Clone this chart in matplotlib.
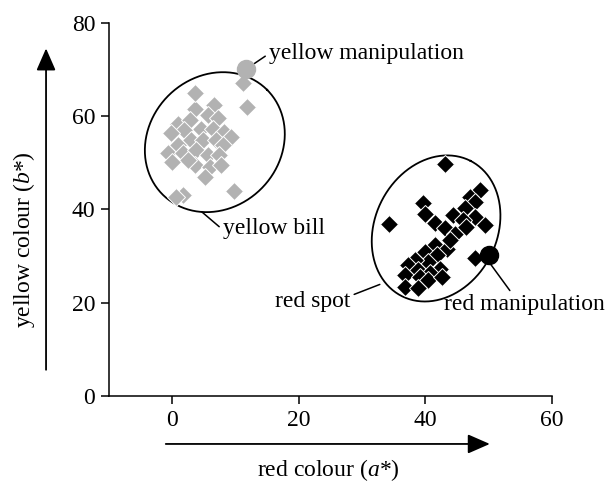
import numpy as np
import matplotlib
matplotlib.use("Agg")
import matplotlib.pyplot as plt

plt.rcParams['font.family'] = ['Liberation Serif', 'DejaVu Serif']
plt.rcParams['font.size'] = 17
plt.rcParams['mathtext.fontset'] = 'custom'
plt.rcParams['mathtext.rm'] = 'Liberation Serif'
plt.rcParams['mathtext.it'] = 'Liberation Serif:italic'

# yellow bill (grey diamonds)
yellow_a = [3.5, 6.6, 5.6, 0.8, 2.7, 7.2, 4.5, 1.9, -0.2, 6.4, 8.2, 9.3, 2.9, 4.8,
            6.9, 0.8, -0.7, 1.6, 3.7, 5.6, 8.0, 7.4, 3.5, 5.9, 7.7, 5.1, 2.4, 0.0,
            3.5, 11.1, 11.8, 1.7, 0.5, 9.7]
yellow_b = [61.6, 62.3, 60.2, 58.4, 59.1, 59.5, 57.3, 57.0, 56.3, 57.3, 56.6, 55.5, 54.8, 54.8,
            54.8, 53.7, 52.0, 52.0, 52.7, 51.6, 53.7, 51.6, 49.5, 49.1, 49.5, 47.0, 50.5, 50.2,
            65.0, 67.0, 62.0, 43.0, 42.7, 44.0]

# red spot (black diamonds)
red_a = [48.6, 47.0, 39.7, 39.9, 47.8, 46.3, 47.8, 49.4, 44.4, 46.0, 41.5, 43.1, 44.7, 46.5,
         41.5, 43.4, 39.9, 41.8, 40.4, 38.3, 37.3, 38.9, 42.3, 40.7, 36.8, 39.1, 40.4, 36.8,
         38.9, 47.8, 42.6, 43.9, 43.1, 34.3]
red_b = [44.1, 42.7, 41.3, 39.1, 41.6, 40.2, 38.4, 36.6, 38.8, 37.7, 37.0, 35.9, 34.8, 36.3,
         32.3, 31.6, 30.9, 30.2, 28.8, 29.1, 28.1, 27.0, 27.3, 26.3, 25.9, 25.5, 24.8, 23.4,
         23.1, 29.5, 25.5, 33.4, 49.7, 36.8]

# manipulation points
yellow_manip = (11.6, 70.0)
red_manip = (50.0, 30.2)

x_ticks = [0, 20, 40, 60]
y_ticks = [0, 20, 40, 60, 80]

grey = '#b2b2b2'

fig = plt.figure(figsize=(6.07, 4.84), dpi=100)
ax = fig.add_axes([0.180, 0.182, 0.729, 0.771])
ax.set_xlim(-10, 60)
ax.set_ylim(0, 80)

# pixel aspect: how many y units per x unit at equal screen length
k = (0.729 * 607 / 70) / (0.771 * 484 / 80)


def ellipse(cx, cy, a, b, ang):
    t = np.linspace(0, 2 * np.pi, 300)
    th = np.radians(ang)
    u, v = a * np.cos(t), b * np.sin(t)
    X = u * np.cos(th) - v * np.sin(th)
    Y = u * np.sin(th) + v * np.cos(th)
    return cx + X, cy + Y * k


ex, ey = ellipse(6.7, 54.4, 11.7, 10.4, 45)
ax.plot(ex, ey, color='black', lw=1.3, zorder=1)
ex, ey = ellipse(41.7, 35.9, 12.0, 9.65, 63)
ax.plot(ex, ey, color='black', lw=1.3, zorder=1)

ax.plot(yellow_a, yellow_b, 'D', color=grey, ms=9, mec='white', mew=0.7, zorder=2)
ax.plot(red_a, red_b, 'D', color='black', ms=9, mec='white', mew=0.7, zorder=2)
ax.plot(*yellow_manip, 'o', color=grey, ms=13, zorder=3)
ax.plot(*red_manip, 'o', color='black', ms=13, zorder=3)

line = dict(arrowstyle='-', color='black', lw=1.1, shrinkA=1, shrinkB=0)
ax.annotate('yellow manipulation', xy=(13.0, 71.3), xytext=(15.3, 73.4),
            ha='left', va='center', annotation_clip=False,
            arrowprops=dict(line, relpos=(0, 0.5)))
ax.annotate('yellow bill', xy=(4.6, 39.5), xytext=(8.0, 35.8),
            ha='left', va='center', annotation_clip=False,
            arrowprops=dict(line, relpos=(0, 0.45)))
ax.annotate('red spot', xy=(32.8, 23.9), xytext=(28.1, 20.3),
            ha='right', va='center', annotation_clip=False,
            arrowprops=dict(line, relpos=(1, 0.75)))
ax.annotate('red manipulation', xy=(50.4, 28.1), xytext=(55.6, 19.5),
            ha='center', va='center', annotation_clip=False,
            arrowprops=dict(line, relpos=(0.43, 1)))

for s in ['top', 'right']:
    ax.spines[s].set_visible(False)
for s in ['left', 'bottom']:
    ax.spines[s].set_linewidth(1.1)
ax.set_xticks(x_ticks)
ax.set_yticks(y_ticks)
ax.tick_params(direction='out', length=6, width=1.1, pad=4)

# axis arrows
ax.annotate('', xy=(50.2, -10.3), xytext=(-1.06, -10.3), xycoords='data',
            annotation_clip=False,
            arrowprops=dict(arrowstyle='-|>,head_length=0.8,head_width=0.35',
                            color='black', lw=1.3, shrinkA=0, shrinkB=0))
ax.annotate('', xy=(-20.0, 74.5), xytext=(-20.0, 5.6), xycoords='data',
            annotation_clip=False,
            arrowprops=dict(arrowstyle='-|>,head_length=0.8,head_width=0.35',
                            color='black', lw=1.3, shrinkA=0, shrinkB=0))

fig.text(328 / 607, 1 - 470 / 484, r'red colour ($a$*)', ha='center', va='center')
fig.text(24 / 607, 1 - 240 / 484, r'yellow colour ($b$*)', ha='center', va='center',
         rotation=90)

fig.savefig('out.png', dpi=100)
